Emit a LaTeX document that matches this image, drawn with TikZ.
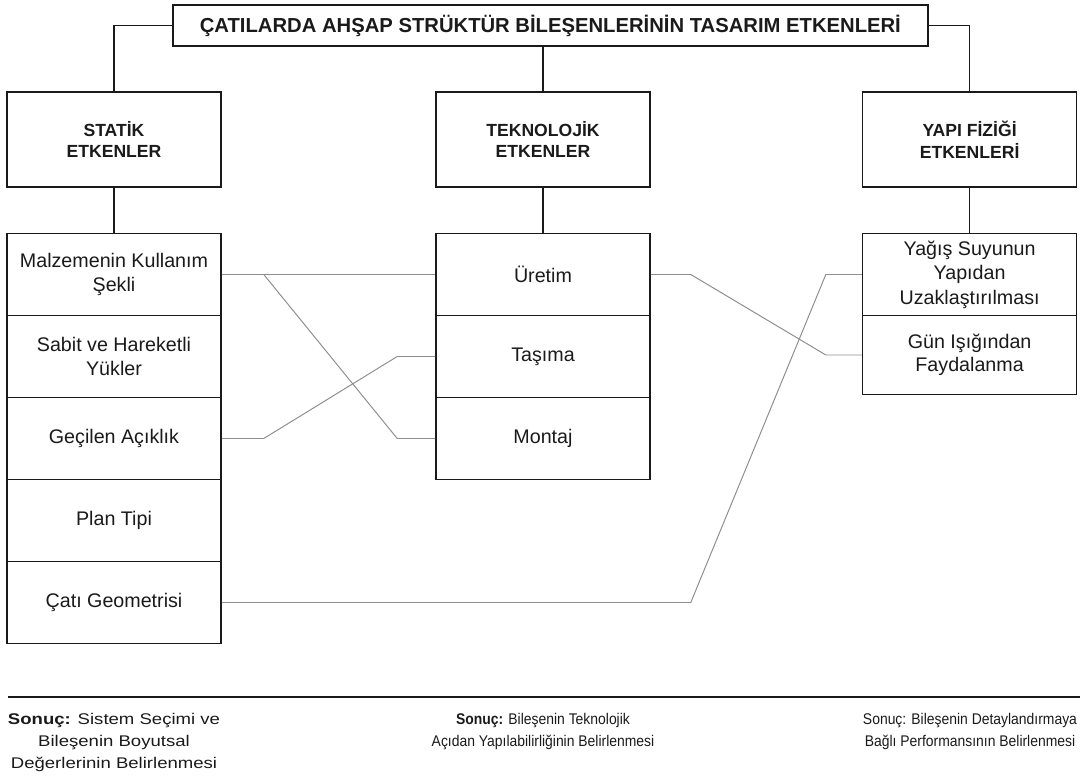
\documentclass[tikz,border=0pt]{standalone}
\usepackage{fontspec}
\setmainfont{Liberation Sans}
\newfontfamily\widefont{Liberation Sans}[FakeStretch=1.2]
\newfontfamily\slimfont{Liberation Sans}[FakeStretch=0.9]
\usetikzlibrary{calc}
\definecolor{frame-black}{HTML}{1A1A1A}
\definecolor{link-gray}{HTML}{8E8E8E}

\begin{document}
\begin{tikzpicture}[
    every node/.style={font=\fontsize{14}{16.5}\selectfont, text=frame-black},
    framebox/.style={draw=frame-black, line width=1.1pt, minimum width=5.35cm, align=center, inner sep=2pt},
    cellbox/.style={framebox, minimum height=2.05cm},
    headbox/.style={framebox, minimum height=2.375cm, font=\bfseries\fontsize{12.5}{15.6}\selectfont},
    treeline/.style={draw=frame-black, line width=1.1pt},
    linkline/.style={draw=link-gray, line width=0.7pt},
    resulttext/.style={anchor=north, inner sep=0pt, align=center, font=\slimfont\fontsize{11}{15.6}\selectfont}
  ]
      \useasboundingbox (0,0) rectangle (27.1,-19.55);

      % title and the three groups of factors
      \node[framebox, line width=1.4pt, minimum width=18.875cm, minimum height=1.025cm, font=\bfseries\fontsize{14.4}{17}\selectfont] (title) at (13.76,-0.64) {ÇATILARDA AHŞAP STRÜKTÜR BİLEŞENLERİNİN TASARIM ETKENLERİ};
      \node[headbox] (stat) at (2.85,-3.4875) {STATİK\\ETKENLER};
      \node[headbox] (tekno) at (13.575,-3.4875) {TEKNOLOJİK\\ETKENLER};
      \node[headbox] (fizik) at (24.24,-3.4875) {YAPI FİZİĞİ\\ETKENLERİ};

      % static factors
      \node[cellbox] (m1) at (2.85,-6.8625) {Malzemenin Kullanım\\Şekli};
      \node[cellbox] (m2) at (2.85,-8.9125) {Sabit ve Hareketli\\Yükler};
      \node[cellbox] (m3) at (2.85,-10.9625) {Geçilen Açıklık};
      \node[cellbox] (m4) at (2.85,-13.0125) {Plan Tipi};
      \node[cellbox] (m5) at (2.85,-15.0625) {Çatı Geometrisi};

      % technological factors
      \node[cellbox] (t1) at (13.575,-6.8625) {Üretim};
      \node[cellbox] (t2) at (13.575,-8.9125) {Taşıma};
      \node[cellbox] (t3) at (13.575,-10.9625) {Montaj};

      % building physics factors
      \node[cellbox, font=\fontsize{14}{17.4}\selectfont] (f1) at (24.24,-6.8625) {Yağış Suyunun\\Yapıdan\\Uzaklaştırılması};
      \node[cellbox, minimum height=1.975cm] (f2) at (24.24,-8.875) {Gün Işığından\\Faydalanma};

      % tree
      \draw[treeline] (title.west) -| (stat.north);
      \draw[treeline] (title.east) -| (fizik.north);
      \draw[treeline] (tekno.north) -- (tekno.north |- title.south);
      \draw[treeline] (stat.south) -- (m1.north);
      \draw[treeline] (tekno.south) -- (t1.north);
      \draw[treeline] (fizik.south) -- (f1.north);

      % relations between factors
      \draw[linkline] (m1.east) -- (t1.west);
      \draw[linkline] (m1.east) -- ++(1.05,0) -- ($(t3.west)+(-0.95,0)$) -- (t3.west);
      \draw[linkline] (m3.east) -- ++(1.05,0) -- ($(t2.west)+(-0.95,0)$) -- (t2.west);
      \draw[linkline] (t1.east) -- ++(1,0) -- ($(f2.west)+(-0.9,0)$) -- (f2.west);
      \draw[linkline] (m5.east) -- ++(11.725,0) -- ($(f1.west)+(-0.9,0)$) -- (f1.west);

      % results
      \draw[line width=1.3pt, frame-black] (0.2,-17.425) -- (27.0,-17.425);
      \node[resulttext, font=\widefont\fontsize{11}{15.6}\selectfont] (res1) at (2.85,-17.825) {\textbf{Sonuç:} Sistem Seçimi ve\\Bileşenin Boyutsal\\Değerlerinin Belirlenmesi};
      \node[resulttext] (res2) at (13.575,-17.825) {\textbf{Sonuç:} Bileşenin Teknolojik\\Açıdan Yapılabilirliğinin Belirlenmesi};
      \node[resulttext] (res3) at (24.25,-17.825) {Sonuç: Bileşenin Detaylandırmaya\\Bağlı Performansının Belirlenmesi};
    \end{tikzpicture}
\end{document}
